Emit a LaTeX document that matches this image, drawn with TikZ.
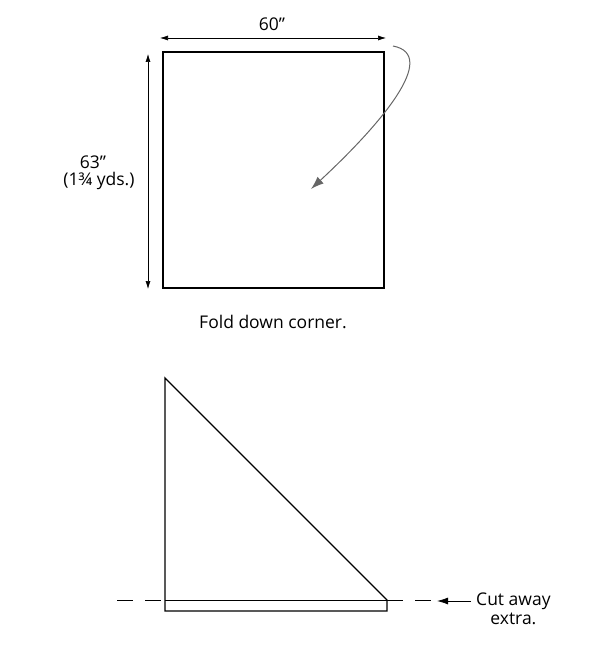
\documentclass[tikz,border=0pt]{standalone}
\usepackage{fontspec}
\setmainfont{Open Sans}
\usetikzlibrary{positioning,arrows.meta}

\tikzset{
	outline/.style={line width=1.4pt},
	dimline/.style={line width=0.6pt,{Latex[length=8pt,width=5pt]}-{Latex[length=8pt,width=5pt]}},
	label/.style={font=\fontsize{17.5}{20}\selectfont,inner sep=1pt,align=center},
	cutline/.style={line width=0.8pt,dash pattern=on 16pt off 12pt}
}

\begin{document}
\begin{tikzpicture}[x=1pt,y=-1pt]
	\useasboundingbox (0,0) rectangle (600,652);
	% square
	\coordinate (sqNW) at (163,52);
	\coordinate (sqNE) at (384,52);
	\coordinate (sqSE) at (384,288);
	\coordinate (sqSW) at (163,288);
	\draw[outline] (sqNW) -- (sqNE) -- (sqSE) -- (sqSW) -- cycle;
	% dimensions
	\coordinate (topL) at (160,38);
	\coordinate (topR) at (386,38);
	\draw[dimline] (topL) -- (topR);
	\node[label] (width) at (272,24) {60"};
	\coordinate (leftT) at (148,54);
	\coordinate (leftB) at (148,289);
	\draw[dimline] (leftT) -- (leftB);
	\node[label] (height) at (93,162) {63"};
	\node[label,below=1pt of height,xshift=6pt] (yards) {(1¾ yds.)};
	% fold arrow
	\coordinate (foldA) at (393,46);
	\coordinate (foldB) at (311,189);
	\draw[line width=1pt,black!60,-{Latex[length=13pt,width=9pt]}] (foldA)
		.. controls (440,55) and (380,125) .. (foldB);
	\node[label] (fold) at (273,322) {Fold down corner.};
	% triangle with strip
	\coordinate (triT) at (165,378);
	\coordinate (triBL) at (165,600);
	\coordinate (triBR) at (387,600);
	\coordinate (stripBL) at (165,611);
	\coordinate (stripBR) at (387,611);
	\draw[outline] (triT) -- (triBR) -- (stripBR) -- (stripBL) -- cycle;
	\draw[line width=1pt] (triBL) -- (triBR);
	% cut line
	\coordinate (cutL) at (117,600);
	\coordinate (cutR) at (432,600);
	\draw[cutline] (cutL) -- (triBL);
	\draw[cutline] (triBR) -- (cutR);
	\node[label,anchor=west] (cut) at (475,601) {Cut away};
	\node[label,below=1pt of cut] (extra) {extra.};
	\draw[line width=0.8pt,shorten <=4pt,-{Latex[length=11pt,width=7pt]}] (cut.west) -- (437,601);
\end{tikzpicture}
\end{document}
